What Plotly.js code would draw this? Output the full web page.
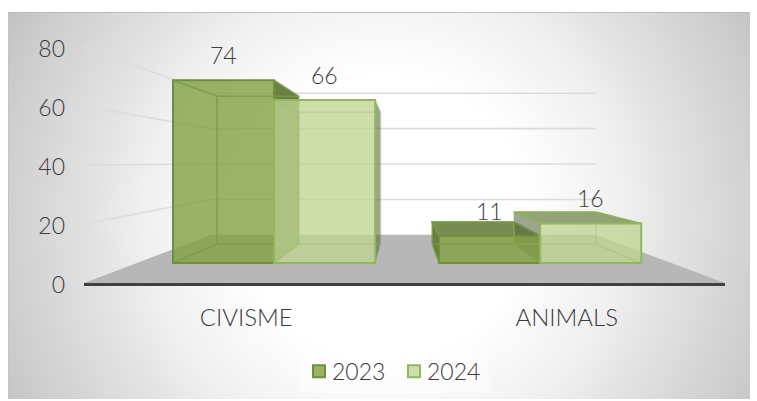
<!DOCTYPE html>
<html><head><meta charset="utf-8">
<script src="https://cdn.plot.ly/plotly-3.0.1.min.js"></script>
<style>
html,body{margin:0;padding:0;background:#fff;}
#bg{position:absolute;left:8px;top:12px;width:742px;height:387px;box-sizing:border-box;border-top:1px solid #bdbdbd;border-left:1px solid #c4c4c4;
background:radial-gradient(circle 425px at 375px 205px,#ffffff 0%,#ffffff 33%,#f0f0f0 56%,#e2e2e2 69%,#cfcfcf 89%,#c3c3c3 100%);}
#chart{position:absolute;left:0;top:0;width:757px;height:401px;}
</style></head><body>
<div id="bg"></div><div id="chart"></div>
<script>
const categories = ["CIVISME","ANIMALS"];
const seriesNames = ["2023","2024"];
const values2023 = [74,11];
const values2024 = [66,16];
const yTicks = [0,20,40,60,80];

const FONT = "Lato, 'Open Sans', sans-serif";
const TEXT = "#3c3c3c";
const allValues = [values2023, values2024];
const frontFill = ["rgba(130,160,64,0.8)","rgba(191,213,146,0.78)"];
const edge = ["#6f8f3c","#93b65e"];
const innerEdge = ["rgba(120,155,70,0.8)","rgba(150,185,95,0.3)"];
const topEdge = ["#75934a","#8db050"];
const sideFill = ["rgba(104,124,62,0.97)","rgba(92,105,72,0.6)"];
const topFill = ["rgba(112,134,72,0.95)","rgba(122,140,88,0.8)"];

// 3D projection: vanishing point and depth factors
const wallVP = [0.492,40.8], wallK = 0.6;
const barVP = [0.485,40.1], barK = 0.809, barW = 0.38;
const proj = (vp,k,x,y)=>[vp[0]+k*(x-vp[0]), vp[1]+k*(y-vp[1])];
const primX=[-0.5,1.5], primY=[0,89.5], barX=[-0.7145,1.695], barY=[-8.1,98.8];

function poly(list){ const xs=[],ys=[];
  list.forEach(p=>{p.forEach(q=>{xs.push(q[0]);ys.push(q[1]);});xs.push(p[0][0]);ys.push(p[0][1]);xs.push(null);ys.push(null);});
  return {x:xs,y:ys}; }

const traces=[];
// floor
const fl=poly([[proj(wallVP,1,-0.5,0),proj(wallVP,wallK,-0.5,0),proj(wallVP,wallK,1.5,0),proj(wallVP,1,1.5,0)]]);
traces.push({type:"scatter",mode:"lines",x:fl.x,y:fl.y,fill:"toself",fillcolor:"#b7b7b7",line:{width:0},showlegend:false,hoverinfo:"skip"});
// walls' grid
const gx=[],gy=[];
yTicks.slice(1).forEach(v=>{
  const a=proj(wallVP,1,-0.5,v),b=proj(wallVP,wallK,-0.5,v),c=proj(wallVP,wallK,1.5,v);
  gx.push(a[0],b[0],c[0],null);gy.push(a[1],b[1],c[1],null);});
traces.push({type:"scatter",mode:"lines",x:gx,y:gy,line:{color:"#dcdcdc",width:1.6},showlegend:false,hoverinfo:"skip"});

// bar depth faces (behind the fronts)
const edgeTraces=[];
allValues.forEach((vals,s)=>{
  const sides=[],tops=[],ex=[],ey=[];
  vals.forEach((v,i)=>{
    const x0=i+(s-1)*barW,x1=i+s*barW;
    const f=(x,y)=>[x,y], b=(x,y)=>proj(barVP,barK,x,y);
    if(x1<barVP[0]) sides.push([f(x1,0),f(x1,v),b(x1,v),b(x1,0)]);
    if(x0>barVP[0]) sides.push([f(x0,0),f(x0,v),b(x0,v),b(x0,0)]);
    if(v<barVP[1]) tops.push([f(x0,v),f(x1,v),b(x1,v),b(x0,v)]);
    [[x0,0],[x1,0],[x0,v],[x1,v]].forEach(c=>{const q=b(c[0],c[1]);ex.push(c[0],q[0],null);ey.push(c[1],q[1],null);});
    const r=[b(x0,0),b(x1,0),b(x1,v),b(x0,v),b(x0,0)];
    r.forEach(q=>{ex.push(q[0]);ey.push(q[1]);});ex.push(null);ey.push(null);
  });
  const t=poly(tops), d=poly(sides);
  traces.push({type:"scatter",mode:"lines",x:d.x,y:d.y,xaxis:"x2",yaxis:"y2",fill:"toself",fillcolor:sideFill[s],line:{width:0},showlegend:false,hoverinfo:"skip"});
  traces.push({type:"scatter",mode:"lines",x:t.x,y:t.y,xaxis:"x2",yaxis:"y2",fill:"toself",fillcolor:topFill[s],line:{color:topEdge[s],width:1.6},showlegend:false,hoverinfo:"skip"});
  edgeTraces.push({type:"scatter",mode:"lines",x:ex,y:ey,line:{color:innerEdge[s],width:1.5},showlegend:false,hoverinfo:"skip"});
});
// fronts: real bars, each series on its own overlay so the later one veils the earlier one's edges
allValues.forEach((vals,s)=>{
  const xa=s===0?"x3":"x4", ya=s===0?"y3":"y4";
  traces.push({type:"bar",name:seriesNames[s],x:categories.map((c,i)=>i),y:vals,hovertext:categories,xaxis:xa,yaxis:ya,
    width:barW,offset:(s-1)*barW,marker:{color:frontFill[s],line:{color:edge[s],width:2}}});
  traces.push(Object.assign(edgeTraces[s],{xaxis:xa,yaxis:ya}));
});

const annotations=[];
allValues.forEach((vals,s)=>vals.forEach((v,i)=>annotations.push({
  xref:"x4",yref:"y4",x:i+(s-0.5)*barW,y:v,yshift:25,text:String(v),showarrow:false,
  xanchor:"center",yanchor:"middle",font:{family:FONT,size:23,color:TEXT,weight:300}})));

const hidden=(r,ov)=>({range:r,visible:false,overlaying:ov,fixedrange:true});
const tf={family:FONT,size:23,color:TEXT,weight:300};
const layout={
  width:757,height:401,margin:{l:84,r:32,t:19,b:118,pad:0},autosize:false,
  paper_bgcolor:"rgba(0,0,0,0)",plot_bgcolor:"rgba(0,0,0,0)",
  font:tf,
  barmode:"overlay",
  xaxis:{range:primX,tickmode:"array",tickvals:[0,1],ticktext:categories,showgrid:false,zeroline:false,
    showline:true,linecolor:"#404040",linewidth:3,ticks:"",ticklabelstandoff:11,ticklabelshift:2,
    tickfont:{family:FONT,size:24,color:TEXT,weight:300},fixedrange:true},
  yaxis:{range:primY,tickmode:"array",tickvals:yTicks,showgrid:false,zeroline:false,showline:false,ticks:"",
    ticklabelstandoff:18,ticklabelshift:2,tickfont:tf,fixedrange:true},
  xaxis2:hidden(barX,"x"),yaxis2:hidden(barY,"y"),
  xaxis3:hidden(barX,"x"),yaxis3:hidden(barY,"y"),
  xaxis4:hidden(barX,"x"),yaxis4:hidden(barY,"y"),
  showlegend:true,
  legend:{orientation:"h",xref:"container",yref:"container",x:0.395,xanchor:"left",y:0.1275,yanchor:"top",bgcolor:"rgba(255,255,255,0.35)",
    entrywidth:50,entrywidthmode:"pixels",font:tf,traceorder:"normal"},
  annotations:annotations
};
Plotly.newPlot("chart",traces,layout,{displayModeBar:false,staticPlot:true}).then(()=>{
  document.querySelectorAll("#chart .legendtext").forEach(t=>t.setAttribute("x",33));
});
</script>
</body></html>
